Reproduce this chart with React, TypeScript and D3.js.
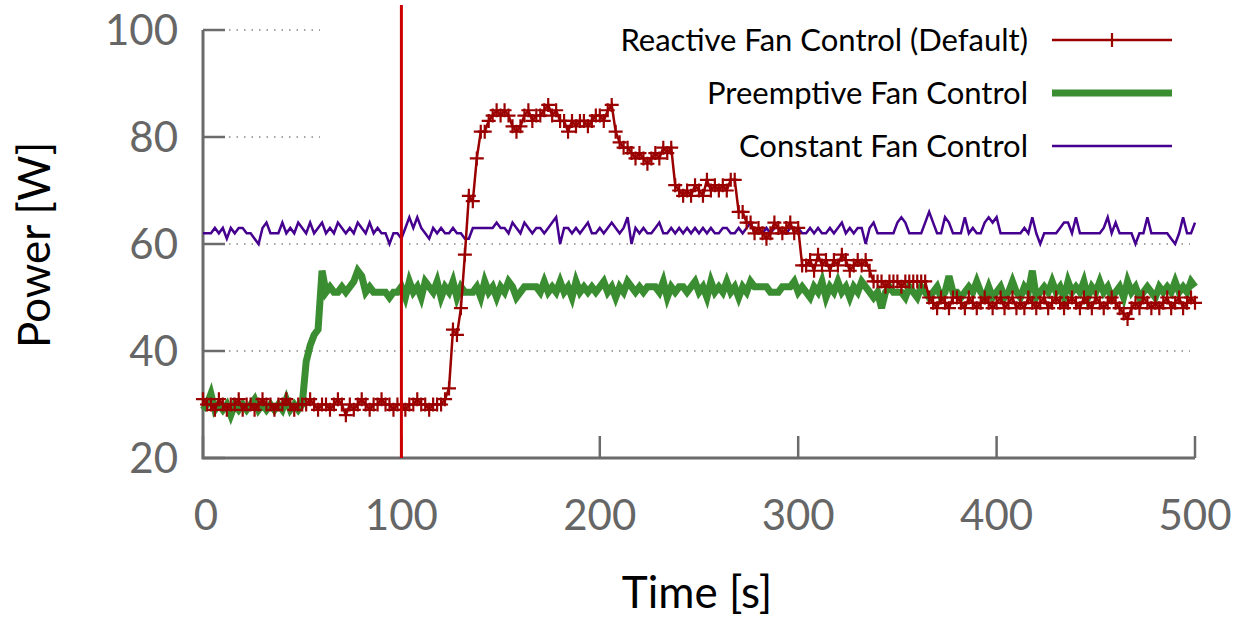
import React from "react";
import * as d3 from "d3";

// sampling interval of the measurements (seconds)
const TIME_STEP = 2;

// Reactive Fan Control (Default), W, one value every 2 s from 0 to 500 s
const reactive: number[] = [
  31, 30, 30, 29, 31, 30, 29, 30, 30, 31,
  29, 30, 30, 29, 30, 31, 30, 30, 29, 30,
  30, 31, 30, 29, 30, 30, 30, 31, 30, 29,
  30, 30, 29, 30, 31, 30, 28, 30, 29, 30,
  31, 30, 29, 30, 30, 31, 30, 30, 29, 30,
  30, 29, 30, 30, 31, 30, 30, 29, 30, 30,
  30, 31, 33, 44, 43, 48, 58, 69, 68, 76,
  81, 81, 83, 84, 85, 84, 85, 84, 82, 81,
  82, 84, 85, 83, 84, 84, 85, 86, 84, 85,
  83, 83, 81, 83, 82, 83, 83, 82, 83, 84,
  84, 83, 85, 86, 81, 79, 78, 78, 77, 76,
  77, 76, 75, 76, 77, 76, 78, 77, 78, 71,
  70, 69, 70, 69, 71, 70, 69, 72, 70, 71,
  70, 71, 70, 72, 72, 66, 66, 64, 64, 62,
  63, 62, 61, 62, 64, 63, 62, 63, 64, 62,
  63, 56, 56, 57, 55, 58, 56, 57, 55, 57,
  56, 58, 57, 55, 56, 57, 56, 57, 55, 53,
  53, 53, 52, 53, 53, 53, 52, 53, 53, 53,
  53, 53, 53, 50, 49, 48, 50, 49, 48, 50,
  50, 49, 48, 50, 49, 48, 49, 50, 49, 48,
  49, 50, 48, 49, 50, 48, 49, 48, 50, 49,
  48, 49, 50, 48, 49, 50, 49, 48, 49, 50,
  49, 48, 50, 49, 48, 50, 49, 48, 49, 50,
  49, 48, 47, 46, 48, 49, 48, 50, 49, 48,
  49, 48, 49, 50, 48, 49, 50, 48, 49, 50,
  49,
];

// Preemptive Fan Control, W
const preemptive: number[] = [
  29, 30, 32, 29, 30, 29, 30, 28, 30, 29,
  30, 29, 30, 31, 29, 30, 29, 30, 29, 30,
  29, 31, 29, 30, 29, 30, 38, 41, 43, 44,
  55, 51, 52, 51, 51, 52, 51, 52, 53, 55,
  54, 51, 52, 51, 51, 51, 51, 50, 51, 51,
  52, 50, 53, 51, 52, 50, 53, 52, 51, 53,
  50, 52, 51, 53, 50, 52, 51, 51, 51, 52,
  50, 53, 51, 52, 50, 52, 51, 53, 52, 50,
  51, 52, 52, 52, 52, 51, 53, 51, 52, 51,
  53, 51, 52, 50, 53, 51, 52, 51, 52, 51,
  52, 53, 51, 52, 50, 52, 51, 53, 52, 51,
  52, 51, 52, 52, 52, 51, 53, 50, 52, 51,
  52, 52, 51, 52, 53, 51, 52, 50, 53, 51,
  52, 51, 53, 51, 52, 50, 52, 51, 53, 52,
  52, 52, 52, 51, 51, 51, 52, 52, 52, 53,
  51, 52, 51, 50, 52, 51, 53, 50, 52, 51,
  53, 51, 52, 50, 52, 51, 53, 52, 51, 50,
  51, 48, 51, 52, 51, 51, 51, 50, 52, 51,
  50, 52, 51, 50, 51, 52, 50, 51, 54, 51,
  51, 50, 51, 52, 51, 53, 51, 50, 52, 50,
  51, 52, 50, 51, 53, 51, 50, 52, 51, 55,
  50, 51, 52, 51, 53, 51, 52, 50, 53, 51,
  52, 51, 53, 50, 52, 51, 53, 51, 52, 50,
  51, 52, 50, 53, 51, 52, 50, 51, 52, 51,
  50, 52, 51, 52, 51, 53, 51, 52, 51, 53,
  52,
];

// Constant Fan Control, W
const constant: number[] = [
  62, 62, 62, 63, 62, 63, 61, 63, 62, 63,
  63, 62, 62, 61, 60, 63, 64, 62, 62, 62,
  64, 62, 63, 62, 64, 63, 62, 64, 62, 63,
  64, 62, 63, 62, 64, 63, 62, 63, 62, 64,
  63, 62, 64, 62, 63, 62, 62, 60, 62, 62,
  61, 63, 65, 63, 65, 63, 62, 61, 63, 62,
  63, 62, 62, 63, 62, 62, 61, 61, 63, 63,
  63, 63, 63, 63, 64, 63, 63, 62, 64, 63,
  62, 64, 63, 62, 63, 63, 62, 63, 64, 65,
  60, 63, 63, 62, 63, 62, 63, 64, 62, 62,
  63, 62, 63, 64, 63, 62, 63, 65, 60, 63,
  62, 63, 62, 62, 63, 64, 62, 62, 63, 62,
  63, 62, 63, 62, 63, 62, 63, 62, 63, 62,
  62, 63, 63, 62, 62, 63, 62, 63, 64, 62,
  63, 62, 63, 62, 63, 63, 62, 62, 63, 63,
  63, 62, 62, 63, 62, 63, 62, 62, 63, 62,
  63, 64, 62, 63, 62, 63, 63, 60, 63, 64,
  62, 62, 62, 62, 62, 64, 65, 64, 62, 62,
  62, 62, 64, 66, 64, 62, 62, 65, 64, 62,
  62, 62, 65, 62, 63, 62, 62, 64, 65, 64,
  65, 62, 62, 62, 62, 62, 62, 63, 62, 65,
  62, 60, 62, 62, 62, 62, 63, 64, 64, 62,
  65, 62, 62, 62, 62, 62, 62, 63, 65, 62,
  64, 62, 62, 62, 62, 60, 62, 62, 65, 62,
  62, 62, 62, 62, 61, 60, 62, 65, 62, 62,
  64,
];

const seriesNames = [
  "Reactive Fan Control (Default)",
  "Preemptive Fan Control",
  "Constant Fan Control",
];
const xTicks = [0, 100, 200, 300, 400, 500];
const yTicks = [20, 40, 60, 80, 100];
const markerTime = 100;

const W = 1240;
const H = 617;
const FONT = "Lato, 'Open Sans', sans-serif";

export default function App() {
  const x = d3.scaleLinear().domain([0, 500]).range([203, 1195]);
  const y = d3.scaleLinear().domain([20, 100]).range([458, 30]);

  const toPts = (vals: number[]) => vals.map((v, i) => [i * TIME_STEP, v] as [number, number]);
  const line = d3
    .line<[number, number]>()
    .x((d) => x(d[0]))
    .y((d) => y(d[1]));

  const redPts = toPts(reactive);
  const greenPts = toPts(preemptive);
  const purplePts = toPts(constant);

  const RED = "#9b0000";
  const GREEN = "#3a8d30";
  const PURPLE = "#45008f";
  const AXIS = "#6b6b6b";

  const legendRows = [
    { name: seriesNames[0], color: RED, width: 2.5, marker: true, yy: 40 },
    { name: seriesNames[1], color: GREEN, width: 7, marker: false, yy: 93 },
    { name: seriesNames[2], color: PURPLE, width: 2.5, marker: false, yy: 146 },
  ];

  const gridEnd = (v: number) => (v >= 80 ? 320 : 1190);

  return (
    <div style={{ position: "absolute", left: 0, top: 0 }}>
      <svg width={W} height={H} style={{ display: "block", background: "#fff" }}>
        {/* grid */}
        {yTicks
          .filter((v) => v > 20)
          .map((v) => (
            <line
              key={"g" + v}
              x1={229}
              x2={gridEnd(v)}
              y1={y(v)}
              y2={y(v)}
              stroke="#888"
              strokeWidth={1.5}
              strokeDasharray="1.5,6"
            />
          ))}
        {/* ticks */}
        {yTicks.map((v) => (
          <line key={"yt" + v} x1={x(0)} x2={x(0) + 22} y1={y(v)} y2={y(v)} stroke={AXIS} strokeWidth={2.5} />
        ))}
        {xTicks.map((v) => (
          <line key={"xt" + v} x1={x(v)} x2={x(v)} y1={y(20)} y2={y(20) - 22} stroke={AXIS} strokeWidth={2.5} />
        ))}
        {/* axes */}
        <path d={`M${x(0)},${y(100)}V${y(20)}H${x(500)}`} fill="none" stroke={AXIS} strokeWidth={3} />
        {/* tick labels */}
        {yTicks.map((v) => (
          <text
            key={"yl" + v}
            x={178}
            y={y(v)}
            dy="0.36em"
            textAnchor="end"
            fontFamily={FONT}
            fontSize={42}
            fill="#666"
          >
            {v}
          </text>
        ))}
        {xTicks.map((v) => (
          <text
            key={"xl" + v}
            x={x(v) + (v === 0 ? 3 : 0)}
            y={530}
            textAnchor="middle"
            fontFamily={FONT}
            fontSize={42}
            fill="#666"
          >
            {v}
          </text>
        ))}
        {/* axis titles */}
        <text x={697} y={608} textAnchor="middle" fontFamily={FONT} fontSize={44} fill="#000">
          Time [s]
        </text>
        <text
          transform={`translate(50,245) rotate(-90)`}
          textAnchor="middle"
          fontFamily={FONT}
          fontSize={44}
          fill="#000"
        >
          Power [W]
        </text>
        {/* series */}
        <path d={line(purplePts) || ""} fill="none" stroke={PURPLE} strokeWidth={2.5} strokeLinejoin="miter" />
        <path d={line(greenPts) || ""} fill="none" stroke={GREEN} strokeWidth={7} strokeLinejoin="miter" />
        <path d={line(redPts) || ""} fill="none" stroke={RED} strokeWidth={2.5} />
        <g stroke={RED} strokeWidth={2.2}>
          {redPts.map((d, i) => (
            <path key={"m" + i} d={`M${x(d[0]) - 7},${y(d[1])}h14M${x(d[0])},${y(d[1]) - 7}v14`} />
          ))}
        </g>
        {/* vertical marker */}
        <line x1={x(markerTime)} x2={x(markerTime)} y1={5} y2={y(20)} stroke="#cc0000" strokeWidth={3} />
        {/* legend */}
        {legendRows.map((r) => (
          <g key={r.name}>
            <text x={1028} y={r.yy} dy="0.35em" textAnchor="end" fontFamily={FONT} fontSize={31} fill="#000">
              {r.name}
            </text>
            <line x1={1052} x2={1172} y1={r.yy} y2={r.yy} stroke={r.color} strokeWidth={r.width} />
            {r.marker && <path d={`M1105,${r.yy}h14M1112,${r.yy - 7}v14`} stroke={r.color} strokeWidth={2.2} />}
          </g>
        ))}
      </svg>
    </div>
  );
}
